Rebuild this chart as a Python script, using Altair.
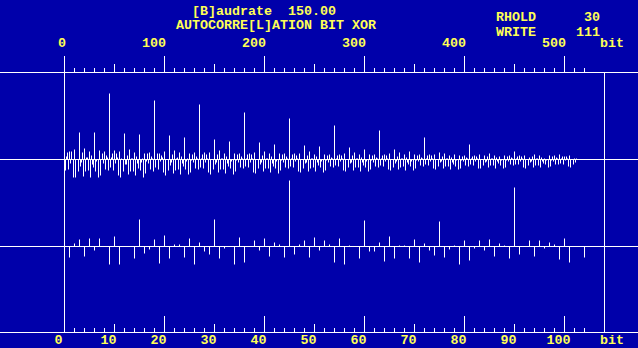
import altair as alt
import pandas as pd

BG = "#0000AA"
FG = "#FFFFFF"
YEL = "#FFFF55"
FONT = "Liberation Mono"
FS = 13.33

# autocorrelation values per bit lag (1..512), 15 lags per row
acf = [
    -11, 3, 7, -10, 8, -4, 8, 0, -18, 10, -18, 0, 0, -12, 27,
    -7, -3, 7, -17, 11, -12, 2, 2, -11, 8, -18, 4, -5, -8, 27,
    -12, -2, 0, -18, 9, -16, 0, 6, -4, 8, -10, 4, 2, -11, 66,
    -8, 2, 6, -11, 9, -4, 6, 2, -16, 8, -18, 1, 0, -12, 26,
    -5, -5, 4, -15, 10, -12, 1, 1, -12, 7, -16, 3, -4, -9, 25,
    -11, -3, 1, -18, 6, -14, -2, 6, -4, 7, -10, 3, 1, -12, 59,
    -8, 0, 6, -10, 6, -2, 4, 2, -13, 8, -16, 0, 0, -11, 24,
    -6, -3, 5, -14, 9, -11, 1, 2, -10, 7, -15, 3, -4, -7, 22,
    -10, -2, 1, -15, 6, -13, -1, 5, -3, 7, -9, 3, 1, -10, 55,
    -8, 1, 5, -9, 7, -3, 5, 1, -13, 7, -15, 0, 0, -10, 20,
    -5, -3, 5, -13, 9, -10, 1, 1, -10, 6, -14, 3, -4, -7, 18,
    -9, -2, 0, -15, 6, -12, -1, 5, -3, 6, -8, 3, 1, -9, 47,
    -7, 1, 5, -8, 6, -3, 5, 1, -13, 7, -14, 0, 0, -9, 17,
    -5, -3, 4, -12, 8, -9, 1, 1, -9, 6, -13, 3, -4, -7, 15,
    -9, -2, 0, -14, 6, -11, -1, 5, -3, 6, -8, 3, 1, -9, 41,
    -7, 1, 5, -8, 6, -2, 4, 1, -12, 6, -13, 0, 0, -9, 14,
    -4, -3, 4, -12, 8, -9, 1, 1, -8, 5, -12, 3, -3, -6, 13,
    -8, -2, 0, -13, 5, -11, -1, 4, -3, 5, -7, 2, 1, -8, 34,
    -6, 1, 4, -7, 5, -2, 4, 1, -11, 6, -12, 0, 0, -8, 12,
    -4, -3, 4, -11, 7, -8, 1, 1, -8, 5, -12, 2, -3, -6, 10,
    -8, -2, 0, -12, 5, -10, -1, 4, -3, 5, -7, 2, 1, -8, 29,
    -6, 1, 4, -7, 5, -2, 4, 1, -10, 6, -11, 0, 0, -8, 10,
    -4, -2, 3, -10, 7, -8, 1, 1, -7, 5, -11, 2, -3, -5, 8,
    -7, -2, 0, -11, 5, -9, -1, 4, -2, 5, -6, 2, 1, -7, 22,
    -5, 1, 4, -6, 5, -2, 4, 1, -9, 5, -10, 0, 0, -7, 7,
    -3, -2, 3, -9, 6, -7, 1, 1, -7, 4, -10, 2, -3, -5, 5,
    -7, -1, 0, -10, 4, -9, -1, 3, -2, 4, -6, 2, 1, -7, 15,
    -5, 1, 3, -6, 4, -2, 3, 1, -9, 5, -9, 0, 0, -6, 4,
    -3, -2, 3, -8, 6, -6, 1, 1, -6, 4, -9, 2, -2, -4, 3,
    -6, -1, 0, -9, 4, -8, -1, 3, -2, 4, -5, 2, 1, -6, 8,
    -5, 1, 3, -5, 4, -2, 3, 1, -8, 4, -9, 0, 0, -6, 2,
    -3, -2, 3, -8, 5, -6, 1, 1, -6, 4, -8, 2, -2, -4, 1,
    -5, -1, 0, -8, 4, -7, -1, 3, -2, 4, -5, 2, 1, -5, 5,
    -4, 1, 3, -5, 3, -1, 3, 1, -7, 4, -8, 0, 0, -5, 1,
    -3, 1,
]
bits = list(range(1, len(acf) + 1))
zoom_n = 104  # lags shown in the magnified panel

top_labels = [0, 100, 200, 300, 400, 500]
bot_labels = [0, 10, 20, 30, 40, 50, 60, 70, 80, 90, 100]
top_minor = [b for b in range(10, 521, 10) if b % 50]
top_mid = [50, 150, 250, 350, 450]
top_major = [100, 200, 300, 400, 500]
bot_minor = [b for b in range(2, 105, 2) if b % 10]
bot_mid = [10, 30, 50, 70, 90]
bot_major = [20, 40, 60, 80, 100]

W, H = 638, 348

x_full = alt.Scale(domain=[-64.5, W - 64.5], range=[0, W], nice=False, zero=False)
x_zoom = alt.Scale(domain=[-64.5 / 5, (W - 64.5) / 5], range=[0, W], nice=False, zero=False)
y_mid = alt.Scale(domain=[159.5 - H, 159.5], range=[H, 0], nice=False, zero=False)
y_low = alt.Scale(domain=[246.5 - H, 246.5], range=[H, 0], nice=False, zero=False)

full_df = pd.DataFrame({"bit": bits, "v": acf, "zero": 0})
zoom_df = full_df.iloc[:zoom_n]

layers = []

# frame lines
for yy in [72.5, 159.5, 246.5, 332.5]:
    layers.append(
        alt.Chart(pd.DataFrame({"k": [0]})).mark_rule(color=FG, strokeWidth=1).encode(
            x=alt.value(0), x2=alt.value(W), y=alt.value(yy)
        )
    )
layers.append(
    alt.Chart(pd.DataFrame({"k": [0]})).mark_rule(color=FG, strokeWidth=1).encode(
        x=alt.value(64.5), y=alt.value(56), y2=alt.value(333)
    )
)
layers.append(
    alt.Chart(pd.DataFrame({"k": [0]})).mark_rule(color=FG, strokeWidth=1).encode(
        x=alt.value(604.5), y=alt.value(72), y2=alt.value(333)
    )
)

# full autocorrelation (1 px per lag)
layers.append(
    alt.Chart(full_df).mark_rule(color=FG, strokeWidth=1).encode(
        x=alt.X("bit:Q", scale=x_full, axis=None),
        y=alt.Y("v:Q", scale=y_mid, axis=None),
        y2="zero:Q",
    )
)
# magnified first lags (5 px per lag)
layers.append(
    alt.Chart(zoom_df).mark_rule(color=FG, strokeWidth=1).encode(
        x=alt.X("bit:Q", scale=x_zoom, axis=None),
        y=alt.Y("v:Q", scale=y_low, axis=None),
        y2="zero:Q",
    )
)

# ticks
def ticks(vals, scale, y1, y2):
    return alt.Chart(pd.DataFrame({"t": vals})).mark_rule(color=FG, strokeWidth=1).encode(
        x=alt.X("t:Q", scale=scale, axis=None), y=alt.value(y1), y2=alt.value(y2)
    )

layers.append(ticks(top_minor, x_full, 68, 72.5))
layers.append(ticks(top_mid, x_full, 64, 72.5))
layers.append(ticks(top_major, x_full, 56, 72.5))
layers.append(ticks(bot_minor, x_zoom, 328, 332.5))
layers.append(ticks(bot_mid, x_zoom, 324, 332.5))
layers.append(ticks(bot_major, x_zoom, 316, 332.5))

txt = dict(font=FONT, fontSize=FS, fontWeight="bold", color=YEL, baseline="alphabetic")

layers.append(
    alt.Chart(pd.DataFrame({"t": top_labels, "s": [str(v) for v in top_labels]}))
    .mark_text(align="right", dx=1.5, **txt)
    .encode(x=alt.X("t:Q", scale=x_full, axis=None), y=alt.value(47), text="s:N")
)
layers.append(
    alt.Chart(pd.DataFrame({"t": bot_labels, "s": [str(v) for v in bot_labels]}))
    .mark_text(align="center", dx=-6, **txt)
    .encode(x=alt.X("t:Q", scale=x_zoom, axis=None), y=alt.value(344), text="s:N")
)

def label(s, x, y, align="left"):
    return alt.Chart(pd.DataFrame({"s": [s]})).mark_text(align=align, **txt).encode(
        x=alt.value(x), y=alt.value(y), text="s:N"
    )

layers += [
    label("bit", 600, 47),
    label("bit", 600, 344),
    label("[B]audrate\u00a0\u00a0150.00", 192, 15),
    label("AUTOCORRE[L]ATION BIT XOR", 176, 29),
    label("RHOLD", 496, 21),
    label("30", 600, 21, "right"),
    label("WRITE", 496, 36),
    label("111", 600, 36, "right"),
]

chart = (
    alt.layer(*layers)
    .resolve_scale(x="independent", y="independent")
    .properties(width=W, height=H, background=BG, padding=0,
                autosize=alt.AutoSizeParams(type="none"))
    .configure_view(stroke=None)
)

chart.save("out.html", embed_options={"renderer": "svg", "actions": False})
